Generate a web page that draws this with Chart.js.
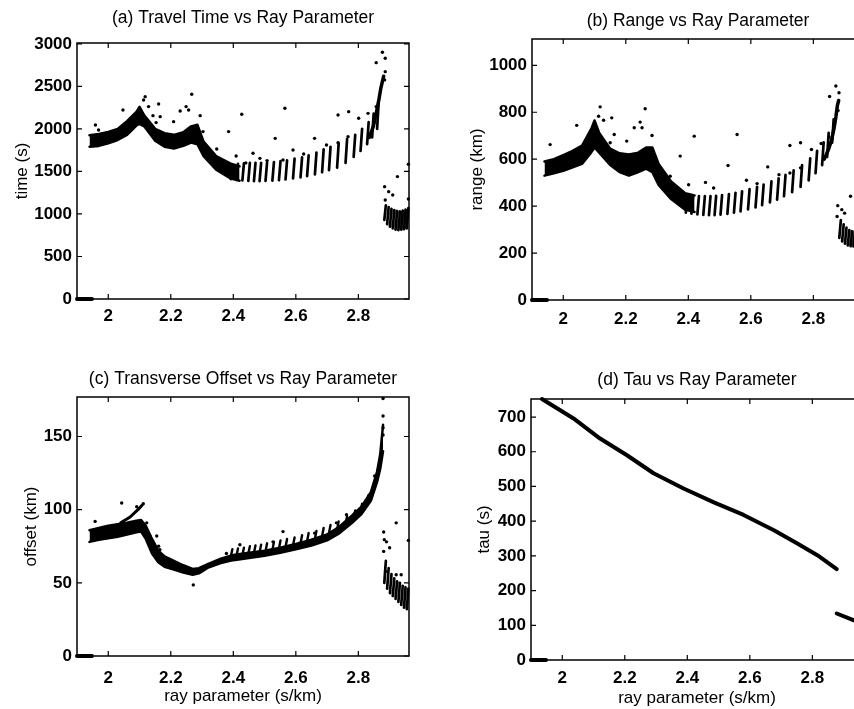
<!DOCTYPE html>
<html>
<head>
<meta charset="utf-8">
<script src="https://cdn.jsdelivr.net/npm/chart.js@4.4.0/dist/chart.umd.min.js"></script>
<style>
html, body { margin: 0; padding: 0; background: #fff; width: 854px; height: 709px; overflow: hidden; position: relative; }
canvas { position: absolute; }
</style>
</head>
<body>
<canvas id="chart-a" width="430" height="340" style="left:0;top:0"></canvas>
<canvas id="chart-b" width="450" height="340" style="left:430px;top:0"></canvas>
<canvas id="chart-c" width="430" height="359" style="left:0;top:350px"></canvas>
<canvas id="chart-d" width="450" height="359" style="left:430px;top:350px"></canvas>
<script>
// tick labels
const rayTicks = [2, 2.2, 2.4, 2.6, 2.8];
const timeTicks = [0, 500, 1000, 1500, 2000, 2500, 3000];
const rangeTicks = [0, 200, 400, 600, 800, 1000];
const offsetTicks = [0, 50, 100, 150];
const tauTicks = [0, 100, 200, 300, 400, 500, 600, 700];

// points sitting at zero on the far left
const zeroP = [1.9, 1.948];
const zeroY = [0, 0];

// dense band of points (lower / upper edge), ray parameter 1.94 - 2.42
const bandP = [1.94, 1.97, 2.00, 2.03, 2.06, 2.09, 2.10, 2.115, 2.15, 2.18, 2.21, 2.24, 2.265, 2.285, 2.305, 2.345, 2.39, 2.42];
const timeBandLo = [1790, 1800, 1830, 1870, 1930, 2040, 2060, 2030, 1860, 1790, 1770, 1800, 1840, 1820, 1680, 1520, 1420, 1390];
const timeBandHi = [1925, 1940, 1965, 2000, 2090, 2200, 2260, 2160, 2000, 1950, 1930, 1960, 2030, 2050, 1850, 1680, 1595, 1560];
const rangeBandLo = [530, 540, 550, 565, 580, 630, 650, 628, 575, 545, 530, 545, 560, 545, 490, 430, 385, 375];
const rangeBandHi = [590, 600, 617, 635, 658, 730, 765, 712, 645, 625, 620, 628, 650, 650, 580, 505, 455, 445];

// branches (the "i" columns) from 2.4 to 2.86
const colP = [2.395, 2.413, 2.432, 2.451, 2.469, 2.487, 2.506, 2.528, 2.549, 2.57, 2.594, 2.618, 2.639, 2.664, 2.687, 2.709, 2.735, 2.762, 2.788, 2.81, 2.831, 2.847, 2.863];
const timeColLo = [1410, 1400, 1395, 1390, 1385, 1385, 1388, 1392, 1398, 1405, 1418, 1430, 1445, 1465, 1490, 1515, 1545, 1600, 1670, 1740, 1820, 1900, 2000];
const timeColHi = [1580, 1590, 1595, 1600, 1600, 1600, 1605, 1610, 1620, 1630, 1650, 1665, 1690, 1720, 1760, 1790, 1830, 1880, 1930, 2000, 2080, 2180, 2320];
const rangeColLo = [372, 368, 365, 363, 362, 362, 364, 367, 372, 378, 386, 395, 404, 416, 428, 442, 460, 482, 510, 540, 575, 610, 670];
const rangeColHi = [440, 442, 443, 443, 443, 444, 447, 451, 457, 463, 472, 482, 492, 505, 518, 533, 552, 575, 603, 635, 672, 712, 770];
const offsetColLo = [68, 68.5, 69, 70, 70.5, 71, 71.5, 72.5, 73.5, 74.5, 75.5, 77, 78.5, 80, 82, 84, 86.5, 90, 94, 99, 105, 112, 125];
const offsetColHi = [73, 73.5, 74, 75, 75.5, 76, 77, 78, 79, 80, 81, 82.5, 84, 85.5, 87.5, 89.5, 92, 95.5, 99.5, 104, 110, 117, 130];

// steep tail just before 2.88
const tailP = [2.835, 2.848, 2.858, 2.866, 2.872, 2.877, 2.881];
const timeTail = [1900, 2030, 2200, 2350, 2480, 2560, 2620];
const rangeTail = [600, 640, 680, 730, 780, 830, 850];

// second branch beyond 2.88
const clusterP = [2.886, 2.895, 2.904, 2.913, 2.922, 2.931, 2.940, 2.949, 2.958];
const timeClusterLo = [930, 880, 850, 830, 815, 810, 815, 820, 830];
const timeClusterHi = [1100, 1080, 1060, 1045, 1035, 1030, 1040, 1050, 1070];
const rangeClusterLo = [265, 250, 240, 233, 229, 228, 229, 233, 240];
const rangeClusterHi = [340, 322, 308, 298, 293, 292, 294, 298, 305];
const offsetClusterLo = [50, 46, 43, 41, 39, 37, 35, 33, 32];
const offsetClusterHi = [65, 60, 56, 53, 51, 50, 48, 47, 46];

// scattered single points
const timeDotP = [1.959, 1.969, 2.047, 2.118, 2.113, 2.129, 2.161, 2.143, 2.166, 2.153, 2.209, 2.23, 2.249, 2.257, 2.267, 2.294, 2.303, 2.347, 2.385, 2.409, 2.427, 2.44, 2.463, 2.485, 2.508, 2.534, 2.565, 2.559, 2.591, 2.625, 2.66, 2.698, 2.735, 2.735, 2.769, 2.767, 2.801, 2.831, 2.857, 2.857, 2.877, 2.886, 2.886, 2.884, 2.884, 2.897, 2.91, 2.886, 2.925, 2.96, 2.96];
const timeDotY = [2046, 1987, 2223, 2379, 2340, 2262, 2293, 2156, 2144, 2074, 2085, 2211, 2262, 2223, 2407, 2156, 1968, 1764, 1968, 1682, 2172, 1600, 1713, 1654, 1627, 1889, 2242, 1635, 1752, 1705, 1889, 1811, 2164, 1838, 2203, 1909, 2125, 2183, 2262, 2779, 2901, 2830, 2673, 2576, 1321, 1262, 1223, 1164, 1439, 1584, 1176];
const rangeDotP = [1.958, 2.043, 2.113, 2.118, 2.129, 2.155, 2.163, 2.15, 2.203, 2.227, 2.246, 2.252, 2.262, 2.284, 2.3, 2.342, 2.374, 2.401, 2.419, 2.455, 2.481, 2.527, 2.556, 2.586, 2.62, 2.654, 2.69, 2.725, 2.725, 2.759, 2.759, 2.794, 2.825, 2.85, 2.852, 2.872, 2.882, 2.879, 2.919, 2.878, 2.891, 2.9, 2.876];
const rangeDotY = [662, 744, 783, 823, 766, 776, 705, 670, 677, 734, 758, 734, 815, 701, 570, 527, 613, 491, 698, 501, 477, 573, 705, 510, 496, 567, 534, 658, 541, 670, 563, 641, 667, 695, 867, 912, 883, 807, 442, 402, 385, 370, 356];

// transverse offset: continuous band
const offsetBandP = [1.94, 1.97, 2.00, 2.03, 2.06, 2.09, 2.105, 2.12, 2.14, 2.16, 2.18, 2.21, 2.24, 2.27, 2.29, 2.32, 2.36, 2.40, 2.45, 2.50, 2.55, 2.60, 2.65, 2.70, 2.74, 2.78, 2.81, 2.84, 2.86, 2.87, 2.879];
const offsetBandLo = [78, 79.5, 80.5, 81.5, 83, 84.5, 85, 80, 70, 64, 61, 59, 57, 55.5, 56.5, 60.5, 63.5, 65.5, 67, 68.5, 70.5, 73, 75.5, 79, 84, 91, 97, 106, 119, 128, 140];
const offsetBandHi = [86, 87.5, 89, 90, 91, 92.5, 93, 89, 80, 72, 68, 65, 62, 59.5, 60, 63, 66.5, 69, 70.5, 72, 74, 76.5, 79.5, 83, 88.5, 96, 102, 112, 126, 138, 158];
const offsetUpperP = [2.04, 2.07, 2.095, 2.108];
const offsetUpperY = [91, 95, 100, 103];
const offsetDotP = [1.958, 2.043, 2.091, 2.112, 2.123, 2.155, 2.144, 2.165, 2.134, 2.161, 2.272, 2.378, 2.421, 2.527, 2.559, 2.66, 2.73, 2.762, 2.852, 2.879, 2.879, 2.879, 2.879, 2.881, 2.921, 2.883, 2.89, 2.9, 2.881, 2.921, 2.937, 2.887, 2.96];
const offsetDotY = [92, 104.6, 102, 104, 91, 82, 77, 72.6, 81.7, 75, 48.6, 70, 76, 78, 85, 84, 91, 96.6, 123, 164, 176, 156, 151, 84.7, 91, 79.5, 78, 74, 71.5, 55.5, 55.5, 57.8, 79];

// tau curve
const tauP1 = [1.935, 2.0, 2.036, 2.121, 2.207, 2.292, 2.388, 2.485, 2.58, 2.677, 2.752, 2.816, 2.878];
const tau1 = [752, 716, 696, 638, 590, 538, 494, 454, 418, 374, 336, 302, 262];
const tauP2 = [2.878, 2.933, 2.962];
const tau2 = [134, 114, 105];

const FONT = '"Liberation Sans", Arial, Helvetica, sans-serif';
const INK = '#000';

function pts(xs, ys) {
    return xs.map((x, i) => ({ x: x, y: ys[i] }));
}
function colPts(xs, lo, hi) {
    const out = [];
    xs.forEach((x, i) => {
        out.push({ x: x - 0.003, y: lo[i] });
        out.push({ x: x + 0.002, y: hi[i] });
        out.push({ x: x + 0.002, y: null });
    });
    return out;
}
function lineDs(data, width, fill) {
    return {
        data: data, showLine: true, spanGaps: false, borderColor: INK, backgroundColor: INK,
        borderWidth: width, pointRadius: 0, fill: fill || false, tension: 0,
        borderCapStyle: 'round', borderJoinStyle: 'round', clip: 6
    };
}
function dotDs(data) {
    return { data: data, showLine: false, pointRadius: 1.7, pointBorderWidth: 0, pointBackgroundColor: INK, clip: 6 };
}

const framePlugin = {
    id: 'frame',
    afterDatasetsDraw(chart) {
        const { ctx, chartArea: a, scales } = chart;
        ctx.save();
        ctx.strokeStyle = INK;
        ctx.lineWidth = 1.5;
        ctx.strokeRect(a.left, a.top, a.right - a.left, a.bottom - a.top);
        ctx.lineWidth = 1.2;
        ctx.beginPath();
        scales.x.ticks.forEach(t => {
            const p = scales.x.getPixelForValue(t.value);
            ctx.moveTo(p, a.bottom); ctx.lineTo(p, a.bottom - 5);
            ctx.moveTo(p, a.top); ctx.lineTo(p, a.top + 5);
        });
        scales.y.ticks.forEach(t => {
            const p = scales.y.getPixelForValue(t.value);
            ctx.moveTo(a.left, p); ctx.lineTo(a.left + 5, p);
            ctx.moveTo(a.right, p); ctx.lineTo(a.right - 5, p);
        });
        ctx.stroke();
        ctx.restore();
    }
};

function makeChart(id, cfg) {
    return new Chart(document.getElementById(id), {
        type: 'scatter',
        data: { datasets: cfg.datasets },
        options: {
            responsive: false,
            animation: false,
            events: [],
            layout: { padding: { left: 0, right: cfg.padRight, top: 0, bottom: 0 } },
            plugins: {
                legend: { display: false },
                tooltip: { enabled: false },
                title: {
                    display: true, text: cfg.title, fullSize: false, color: INK,
                    font: { family: FONT, size: 17.5, weight: 'normal' },
                    padding: { top: cfg.titleTop, bottom: cfg.titleBottom }
                }
            },
            scales: {
                x: {
                    type: 'linear', min: 1.9, max: 2.962,
                    grid: { display: false, drawTicks: false }, border: { display: false },
                    afterBuildTicks: s => { s.ticks = rayTicks.map(v => ({ value: v })); },
                    afterFit: s => { s.height = cfg.xHeight; },
                    ticks: {
                        color: INK, padding: cfg.xPad, maxRotation: 0, autoSkip: false,
                        font: { family: FONT, size: 17, weight: 'bold' },
                        callback: v => String(v)
                    },
                    title: {
                        display: !!cfg.xTitle, text: cfg.xTitle || '', color: INK,
                        font: { family: FONT, size: 17 },
                        padding: { top: 0, bottom: cfg.xTitleBottom || 0 }
                    }
                },
                y: {
                    type: 'linear', min: 0, max: cfg.yMax,
                    grid: { display: false, drawTicks: false }, border: { display: false },
                    afterBuildTicks: s => { s.ticks = cfg.yTicks.map(v => ({ value: v })); },
                    afterFit: s => { s.width = cfg.yWidth; },
                    ticks: {
                        color: INK, padding: 5, autoSkip: false,
                        font: { family: FONT, size: 17, weight: 'bold' },
                        callback: v => String(v)
                    },
                    title: {
                        display: true, text: cfg.yTitle, color: INK,
                        font: { family: FONT, size: 17 },
                        padding: { top: cfg.yTitlePad, bottom: 0 }
                    }
                }
            }
        },
        plugins: [framePlugin]
    });
}

makeChart('chart-a', {
    title: '(a) Travel Time vs Ray Parameter',
    yTitle: 'time (s)', yTicks: timeTicks, yMax: 3010,
    padRight: 21, yWidth: 77, xHeight: 41, xPad: 7.5,
    titleTop: 7.8, titleBottom: 14.2, yTitlePad: 11.8,
    datasets: [
        lineDs(pts(zeroP, zeroY), 4),
        lineDs(pts(bandP, timeBandLo), 2.5),
        lineDs(pts(bandP, timeBandHi), 2.5, '-1'),
        lineDs(colPts(colP, timeColLo, timeColHi), 2.7),
        lineDs(pts(tailP, timeTail), 3.5),
        lineDs(colPts(clusterP, timeClusterLo, timeClusterHi), 2.7),
        dotDs(pts(timeDotP, timeDotY))
    ]
});

makeChart('chart-b', {
    title: '(b) Range vs Ray Parameter',
    yTitle: 'range (km)', yTicks: rangeTicks, yMax: 1112,
    padRight: 16, yWidth: 102, xHeight: 40, xPad: 9.5,
    titleTop: 10.7, titleBottom: 7.3, yTitlePad: 37.2,
    datasets: [
        lineDs(pts(zeroP, zeroY), 4),
        lineDs(pts(bandP, rangeBandLo), 2.5),
        lineDs(pts(bandP, rangeBandHi), 2.5, '-1'),
        lineDs(colPts(colP, rangeColLo, rangeColHi), 2.7),
        lineDs(pts(tailP, rangeTail), 3.5),
        lineDs(colPts(clusterP, rangeClusterLo, rangeClusterHi), 2.7),
        dotDs(pts(rangeDotP, rangeDotY))
    ]
});

makeChart('chart-c', {
    title: '(c) Transverse Offset vs Ray Parameter',
    yTitle: 'offset (km)', yTicks: offsetTicks, yMax: 177,
    xTitle: 'ray parameter (s/km)', xTitleBottom: 2.1,
    padRight: 21, yWidth: 77, xHeight: 53, xPad: 12.5,
    titleTop: 18.6, titleBottom: 7.4, yTitlePad: 20.8,
    datasets: [
        lineDs(pts(zeroP, zeroY), 4),
        lineDs(pts(offsetBandP, offsetBandLo), 2.5),
        lineDs(pts(offsetBandP, offsetBandHi), 2.5, '-1'),
        lineDs(colPts(colP, offsetColLo, offsetColHi), 2.4),
        lineDs(pts(offsetUpperP, offsetUpperY), 3),
        lineDs(colPts(clusterP, offsetClusterLo, offsetClusterHi), 2.7),
        dotDs(pts(offsetDotP, offsetDotY))
    ]
});

makeChart('chart-d', {
    title: '(d) Tau vs Ray Parameter',
    yTitle: 'tau (s)', yTicks: tauTicks, yMax: 752,
    xTitle: 'ray parameter (s/km)', xTitleBottom: 0.5,
    padRight: 17, yWidth: 101, xHeight: 49, xPad: 8.2,
    titleTop: 20, titleBottom: 8, yTitlePad: 43.8,
    datasets: [
        lineDs(pts(zeroP, zeroY), 4),
        lineDs(pts(tauP1, tau1), 4),
        lineDs(pts(tauP2, tau2), 4)
    ]
});
</script>
</body>
</html>
